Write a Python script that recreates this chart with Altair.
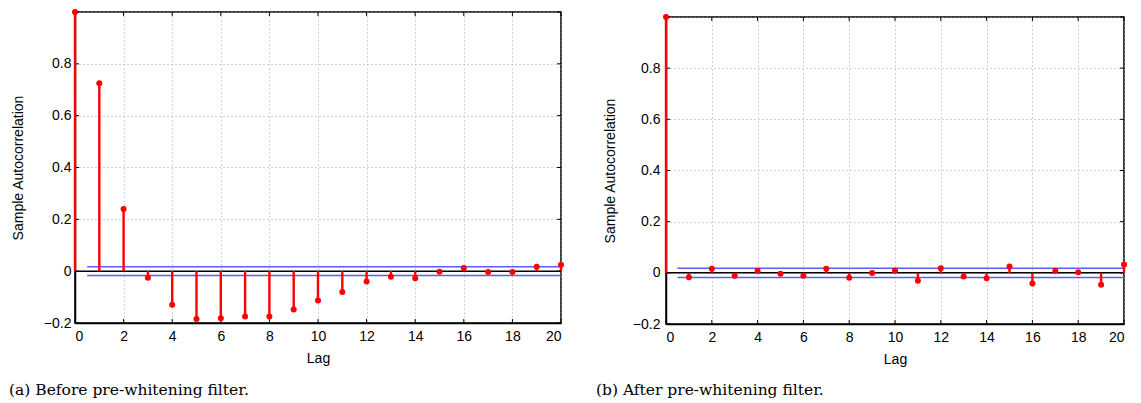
import altair as alt
import pandas as pd

lags = list(range(21))
acf_before = [1.0, 0.725, 0.24, -0.025, -0.13, -0.185, -0.182, -0.175, -0.175, -0.148,
              -0.113, -0.08, -0.04, -0.022, -0.027, -0.002, 0.012, -0.003, -0.003, 0.017, 0.025]
acf_after = [1.0, -0.017, 0.016, -0.011, 0.008, -0.004, -0.011, 0.016, -0.019, -0.001,
             0.009, -0.031, 0.018, -0.014, -0.021, 0.025, -0.042, 0.008, 0.002, -0.047, 0.033]
bound_before = 0.017
bound_after = 0.018
x_ticks = list(range(0, 21, 2))
y_ticks = [-0.2, 0.0, 0.2, 0.4, 0.6, 0.8, 1.0]
captions = ["(a) Before pre-whitening filter.", "(b) After pre-whitening filter."]

SANS = "Liberation Sans"
SERIF = "DejaVu Serif"
RED = "#ff0000"
BOX = alt.ViewBackground(stroke="black", strokeWidth=1.5)


def panel(values, bound, upper_color, lower_color, caption, width, height, cap_dx,
          lab_pad, title_pad, cap_off):
    df = pd.DataFrame({"lag": lags, "acf": values, "zero": [0.0] * len(lags)})
    xs = alt.Scale(domain=[0, 20], nice=False, zero=False)
    ys = alt.Scale(domain=[-0.2, 1.0], nice=False, zero=False)

    xax = alt.Axis(values=x_ticks, grid=True, gridDash=[1, 3], gridColor="#a8a8a8",
                   gridWidth=1, ticks=False, domainColor="black", domainWidth=1.5,
                   labelFont=SANS, labelFontSize=14, labelColor="black", labelPadding=6,
                   title="Lag", titleFont=SANS, titleFontSize=14, titleFontWeight="normal",
                   titleColor="black", titlePadding=8)
    yax = alt.Axis(values=y_ticks, grid=True, gridDash=[1, 3], gridColor="#a8a8a8",
                   gridWidth=1, ticks=False, domainColor="black", domainWidth=1.5,
                   labelFont=SANS, labelFontSize=14, labelColor="black", labelPadding=lab_pad,
                   labelExpr="datum.value >= 0.99 ? '' : (abs(datum.value) < 1e-9 ? '0' : replace(format(datum.value, '.1f'), '-', '\u2212'))",
                   title="Sample Autocorrelation", titleFont=SANS, titleFontSize=14,
                   titleFontWeight="normal", titleColor="black", titlePadding=title_pad)

    base = alt.Chart(df)
    frame = base.mark_point(opacity=0).encode(
        x=alt.X("lag:Q", scale=xs, axis=xax),
        y=alt.Y("acf:Q", scale=ys, axis=yax),
    )

    bdf = pd.DataFrame({"x1": [0.5, 0.5], "x2": [20, 20], "b": [bound, -bound],
                        "c": ["up", "lo"]})
    blue = alt.Chart(bdf).mark_rule(strokeWidth=1.5).encode(
        x=alt.X("x1:Q", scale=xs), x2="x2:Q",
        y=alt.Y("b:Q", scale=ys),
        color=alt.Color("c:N", scale=alt.Scale(domain=["up", "lo"], range=[upper_color, lower_color]), legend=None),
    )
    zline = alt.Chart(pd.DataFrame({"z": [0.0]})).mark_rule(color="black", strokeWidth=1.5).encode(
        y=alt.Y("z:Q", scale=ys)
    )
    stems = base.mark_rule(color=RED, strokeWidth=2.4).encode(
        x=alt.X("lag:Q", scale=xs), y=alt.Y("acf:Q", scale=ys), y2="zero:Q"
    )
    dots = base.mark_circle(color=RED, opacity=1, size=36).encode(
        x=alt.X("lag:Q", scale=xs), y=alt.Y("acf:Q", scale=ys)
    )

    xt = pd.DataFrame({"t": x_ticks})
    yt = pd.DataFrame({"t": y_ticks})
    tick_top = alt.Chart(xt).mark_rule(color="black", strokeWidth=1).encode(
        x=alt.X("t:Q", scale=xs), y=alt.value(0), y2=alt.value(4))
    tick_bot = alt.Chart(xt).mark_rule(color="black", strokeWidth=1).encode(
        x=alt.X("t:Q", scale=xs), y=alt.value(height), y2=alt.value(height - 4))
    tick_l = alt.Chart(yt).mark_rule(color="black", strokeWidth=1).encode(
        y=alt.Y("t:Q", scale=ys), x=alt.value(0), x2=alt.value(4))
    tick_r = alt.Chart(yt).mark_rule(color="black", strokeWidth=1).encode(
        y=alt.Y("t:Q", scale=ys), x=alt.value(width), x2=alt.value(width - 4))

    layers = [frame, blue, zline, tick_top, tick_bot, tick_l, tick_r, stems, dots]
    return alt.layer(*layers).properties(
        width=width, height=height, view=BOX,
        title=alt.TitleParams(caption, orient="bottom", anchor="start", frame="group",
                              font=SERIF, fontSize=15.5, fontWeight="normal", color="black",
                              dx=cap_dx, offset=cap_off),
    )


left = panel(acf_before, bound_before, "#5c5cff", "#5c5cff", captions[0], 486, 311, -66, 4, 18, 18)
right = panel(acf_after, bound_after, "#6b6bff", "#0000c8", captions[1], 458, 307, -70, 6, 15, 17)

spacer = alt.Chart(pd.DataFrame({"t": [0]})).mark_rule(opacity=0).encode(
    x=alt.value(0), x2=alt.value(5), y=alt.value(0)
).properties(width=10, height=1, view=alt.ViewBackground(stroke="transparent"))

chart = alt.hconcat(left, alt.vconcat(spacer, right, spacing=-1), spacing=30).properties(
    padding={"left": 0, "top": 0, "right": 0, "bottom": 0}
)

chart.save("out.html", embed_options={"renderer": "svg", "actions": False})
